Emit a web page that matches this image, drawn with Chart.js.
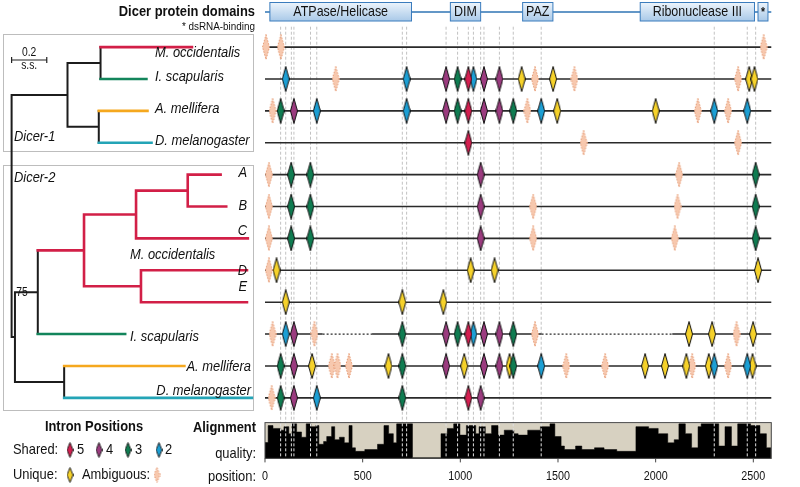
<!DOCTYPE html>
<html lang="en">
<head>
<meta charset="UTF-8" />
<script src="https://cdn.jsdelivr.net/npm/chart.js@4.4.1/dist/chart.umd.min.js"></script>
<style>
  body { margin: 0; background: #fff; }
  #wrap { width: 800px; height: 487px; }
</style>
</head>
<body>
<div id="wrap"><canvas id="myChart" width="800" height="487"></canvas></div>
<script>
// rows of the intron map, top to bottom (same order as the tree tips)
const rowNames = ["M. occidentalis", "I. scapularis", "A. mellifera", "D. melanogaster",
  "A", "B", "C", "D", "E", "I. scapularis", "A. mellifera", "D. melanogaster"];

// intron positions per row: [alignment position, class]
// class: "5","4","3","2" = shared by n genes, "u" = unique, "a" = ambiguous
const d1Mocc = [[5, "a"], [81, "a"], [2553, "a"]];
const d1Isca = [[106, "2"], [362, "a"], [725, "2"], [927, "4"], [986, "3"], [1041, "5"], [1067, "2"],
  [1121, "4"], [1200, "4"], [1314, "u"], [1382, "a"], [1475, "u"], [1584, "a"], [2422, "a"], [2479, "u"], [2506, "u"]];
const d1Amel = [[39, "a"], [80, "3"], [148, "4"], [265, "2"], [725, "2"], [927, "4"], [986, "3"], [1041, "5"],
  [1121, "4"], [1200, "4"], [1271, "3"], [1343, "a"], [1414, "2"], [1496, "u"], [2000, "u"], [2216, "a"],
  [2300, "2"], [2371, "a"], [2469, "2"]];
const d1Dmel = [[1041, "5"], [1631, "a"], [2422, "a"]];
const d2A = [[20, "a"], [134, "3"], [232, "3"], [1104, "4"], [2120, "a"], [2512, "3"]];
const d2B = [[20, "a"], [134, "3"], [232, "3"], [1104, "4"], [1373, "a"], [2112, "a"], [2512, "3"]];
const d2C = [[20, "a"], [134, "3"], [232, "3"], [1104, "4"], [1373, "a"], [2098, "a"], [2512, "3"]];
const d2D = [[20, "a"], [59, "u"], [1053, "u"], [1175, "u"], [2524, "u"]];
const d2E = [[106, "u"], [703, "u"], [913, "u"]];
const d2Isca = [[39, "a"], [106, "2"], [148, "4"], [253, "a"], [703, "3"], [927, "4"], [986, "3"], [1041, "5"],
  [1067, "2"], [1121, "4"], [1200, "4"], [1271, "3"], [1382, "a"], [2171, "u"], [2289, "u"], [2414, "a"], [2499, "u"]];
const d2Amel = [[80, "3"], [148, "4"], [241, "u"], [342, "a"], [371, "a"], [430, "a"], [632, "u"], [703, "3"],
  [927, "4"], [1020, "u"], [1121, "4"], [1200, "4"], [1252, "u"], [1271, "3"], [1414, "2"], [1542, "a"],
  [1741, "a"], [1946, "u"], [2048, "u"], [2157, "u"], [2187, "a"], [2272, "u"], [2300, "2"], [2371, "a"],
  [2469, "2"], [2496, "u"]];
const d2Dmel = [[34, "a"], [80, "3"], [148, "4"], [265, "2"], [703, "3"], [1041, "5"], [1104, "4"]];
const intronRows = [d1Mocc, d1Isca, d1Amel, d1Dmel, d2A, d2B, d2C, d2D, d2E, d2Isca, d2Amel, d2Dmel];

// dashed guides through the shared intron positions
const guidePos = [80, 106, 135, 148, 233, 265, 703, 725, 927, 986, 1041, 1067, 1104, 1121, 1200, 1271,
  1414, 2300, 2469, 2512];
// gaps in the I. scapularis Dicer-2 model: [row, from, to]
const gapSpans = [[9, 295, 548], [9, 1416, 2085]];
const seqLength = 2592;

// protein domains along the alignment
const domainNames = ["ATPase/Helicase", "DIM", "PAZ", "Ribonuclease III", "*"];
const domainStart = [25, 949, 1319, 1921, 2524];
const domainEnd = [750, 1104, 1474, 2506, 2575];

// alignment quality (step start, value 0-1)
const qualPos = [0, 16, 41, 81, 97, 122, 138, 162, 187, 211, 235, 260, 276, 300, 316, 341, 357, 381, 406, 430,
  446, 463, 511, 576, 609, 633, 657, 674, 755, 901, 933, 966, 998, 1031, 1079, 1096, 1128, 1160, 1193, 1225,
  1274, 1296, 1345, 1410, 1459, 1484, 1516, 1533, 1590, 1622, 1687, 1736, 1801, 1899, 1964, 2013, 2062, 2095,
  2119, 2152, 2184, 2217, 2233, 2323, 2355, 2388, 2420, 2486, 2534, 2567, 2590];
const qualVal = [0.45, 0.93, 0.85, 0.8, 0.9, 0.7, 0.98, 0.75, 0.6, 0.98, 0.9, 0.93, 0.4, 0.48, 0.62, 0.9, 0.53,
  0.6, 0.44, 0.93, 0.3, 0.2, 0.25, 0.4, 0.93, 0.7, 0.44, 0.98, 0.02, 0.7, 0.85, 0.98, 0.66, 0.93, 0.7, 0.9, 0.7,
  0.93, 0.66, 0.8, 0.7, 0.66, 0.8, 0.9, 0.98, 0.62, 0.35, 0.25, 0.35, 0.25, 0.3, 0.25, 0.2, 0.9, 0.85, 0.7, 0.44,
  0.53, 0.98, 0.7, 0.3, 0.9, 0.98, 0.35, 0.9, 0.35, 0.98, 0.93, 0.7, 0.3, 0.3];
const tickLabels = [0, 500, 1000, 1500, 2000, 2500];

// tree: parent node, branch length (s.s.), tip row, clade colour key
const treeParent = [-1, 0, 1, 2, 2, 1, 5, 5, 0, 8, 9, 10, 11, 12, 12, 11, 10, 16, 16, 9, 8, 20, 20];
const treeLength = [0, 0.318, 0.188, 0.520, 0.261, 0.178, 0.277, 0.300, 0.019, 0.130, 0.263, 0.296, 0.294,
  0.187, 0.219, 0.636, 0.324, 0.603, 0.603, 0.497, 0.280, 0.684, 1.068];
const treeTip = [null, null, null, 0, 1, null, 2, 3, null, null, null, null, null, 4, 5, 6, null, 7, 8, 9, null, 10, 11];
const treeClade = ["k", "k", "k", "mo", "is", "k", "am", "dm", "k", "k", "mo", "mo", "mo", "mo", "mo", "mo",
  "mo", "mo", "mo", "is", "k", "am", "dm"];

const cladeColor = { k: "#1c1c1c", mo: "#d21f47", is: "#13855b", am: "#f5a81e", dm: "#23a4b6" };
const classColor = { "5": "#d41f50", "4": "#9b3b7f", "3": "#0f7c51", "2": "#1c9fd4", u: "#f6d22a" };
const ambFill = "#f7c8ae", ambLine = "#e59a74";

// diamond marker images
function diamond(w, h, fill, stroke, dash) {
  const c = document.createElement("canvas");
  c.width = w; c.height = h;
  const g = c.getContext("2d");
  g.beginPath();
  g.moveTo(w / 2, 0.5); g.lineTo(w - 0.5, h / 2); g.lineTo(w / 2, h - 0.5); g.lineTo(0.5, h / 2);
  g.closePath();
  g.fillStyle = fill; g.fill();
  if (dash) g.setLineDash(dash);
  g.strokeStyle = stroke; g.lineWidth = 1; g.stroke();
  return c;
}
const bigMark = {}, smallMark = {};
Object.keys(classColor).forEach((k) => {
  bigMark[k] = diamond(8, 26, classColor[k], "#111");
  smallMark[k] = diamond(7, 16, classColor[k], "#222");
});
bigMark.a = diamond(8, 26, ambFill, ambLine, [1.5, 1.5]);
smallMark.a = diamond(7, 16, ambFill, ambLine, [1.5, 1.5]);

// tree layout
const n = treeParent.length;
const nodeX = new Array(n).fill(0);
for (let i = 1; i < n; i++) nodeX[i] = nodeX[treeParent[i]] + treeLength[i];
const kids = treeParent.map(() => []);
treeParent.forEach((p, i) => { if (p >= 0) kids[p].push(i); });
const nodeY = treeTip.slice();
for (let i = n - 1; i >= 0; i--) {
  if (nodeY[i] === null) {
    const ys = kids[i].map((k) => nodeY[k]);
    nodeY[i] = (Math.min(...ys) + Math.max(...ys)) / 2;
  }
}
const treeSegs = {};
Object.keys(cladeColor).forEach((k) => (treeSegs[k] = []));
function seg(c, x1, y1, x2, y2) {
  treeSegs[c].push({ x: x1, y: y1 }, { x: x2, y: y2 }, { x: x2, y: null });
}
for (let i = 0; i < n; i++) {
  if (i > 0) seg(treeClade[i], nodeX[treeParent[i]], nodeY[i], nodeX[i], nodeY[i]);
  if (kids[i].length) {
    const ys = kids[i].map((k) => nodeY[k]);
    seg(treeClade[i], nodeX[i], Math.min(...ys), nodeX[i], Math.max(...ys));
  }
}

const datasets = [];
// intron diamonds
["5", "4", "3", "2", "u", "a"].forEach((k, j) => {
  const pts = [];
  intronRows.forEach((row, r) => row.forEach(([p, c]) => { if (c === k) pts.push({ x: p, y: r }); }));
  datasets.push({ data: pts, pointStyle: bigMark[k], pointRadius: 4, showLine: false, order: j < 4 ? 0 : 1,
    xAxisID: "x", yAxisID: "y" });
});
// tree branches
Object.keys(treeSegs).forEach((k) => {
  datasets.push({ data: treeSegs[k], showLine: true, borderColor: cladeColor[k], borderWidth: k === "k" ? 2 : 2.6,
    borderCapStyle: "square", pointRadius: 0, order: k === "k" ? 3 : 2, xAxisID: "tx", yAxisID: "y" });
});
// gene model lines
const solid = [], dots = [];
rowNames.forEach((name, r) => {
  const gaps = gapSpans.filter((g) => g[0] === r);
  let start = 0;
  gaps.forEach(([, a, b]) => {
    solid.push({ x: start, y: r }, { x: a, y: r }, { x: a, y: null });
    dots.push({ x: a, y: r }, { x: b, y: r }, { x: b, y: null });
    start = b;
  });
  solid.push({ x: start, y: r }, { x: seqLength, y: r }, { x: seqLength, y: null });
});
datasets.push({ data: solid, showLine: true, borderColor: "#2a2a2a", borderWidth: 1.6, pointRadius: 0, order: 10,
  xAxisID: "x", yAxisID: "y" });
datasets.push({ data: dots, showLine: true, borderColor: "#2a2a2a", borderWidth: 1.2, borderDash: [2, 2],
  pointRadius: 0, order: 10, xAxisID: "x", yAxisID: "y" });
// guides
const guideTop = [], guideLow = [];
guidePos.forEach((p) => {
  guideTop.push({ x: p, y: -0.64 }, { x: p, y: 11.8 }, { x: p, y: null });
  guideLow.push({ x: p, y: 11.8 }, { x: p, y: 12.9 }, { x: p, y: null });
});
datasets.push({ data: guideTop, showLine: true, borderColor: "#c2c2c2", borderWidth: 1, borderDash: [3, 2],
  pointRadius: 0, order: 25, xAxisID: "x", yAxisID: "y" });
datasets.push({ data: guideLow, showLine: true, borderColor: "#e0e0e0", borderWidth: 1, borderDash: [3, 2],
  pointRadius: 0, order: 15, xAxisID: "x", yAxisID: "y" });
// alignment quality
datasets.push({ data: qualPos.map((p, i) => ({ x: p, y: qualVal[i] })), showLine: true, stepped: true,
  fill: "origin", backgroundColor: "#000", borderColor: "#000", borderWidth: 0.5, pointRadius: 0, order: 20,
  xAxisID: "x", yAxisID: "q" });

const SX = 0.86; // horizontal squeeze for the condensed figure font
function txt(ctx, s, x, y, font, align, color) {
  ctx.save();
  ctx.font = font;
  ctx.fillStyle = color || "#111";
  ctx.textBaseline = "middle";
  ctx.textAlign = align || "left";
  ctx.translate(x, y);
  ctx.scale(SX, 1);
  ctx.fillText(s, 0, 0);
  ctx.restore();
}
const FF = "'Liberation Sans', Arial, sans-serif";

const decorations = {
  id: "decorations",
  beforeDatasetsDraw(chart) {
    const { ctx, scales } = chart;
    const xs = scales.x, q = scales.q;
    ctx.save();
    ctx.strokeStyle = "#bdbdbd";
    ctx.lineWidth = 1;
    ctx.strokeRect(3.5, 34.5, 250, 117);
    ctx.strokeRect(3.5, 165.5, 250, 245);
    const l = xs.getPixelForValue(0), r = xs.getPixelForValue(seqLength);
    const t = q.getPixelForValue(1), b = q.getPixelForValue(0);
    ctx.fillStyle = "#d7d1c1";
    ctx.fillRect(l, t, r - l, b - t);
    ctx.restore();
  },
  afterDatasetsDraw(chart) {
    const { ctx, scales } = chart;
    const xs = scales.x, q = scales.q, tx = scales.tx;
    ctx.save();
    // quality panel frame + position ticks
    const l = xs.getPixelForValue(0), r = xs.getPixelForValue(seqLength);
    const t = q.getPixelForValue(1), b = q.getPixelForValue(0);
    ctx.strokeStyle = "#444";
    ctx.lineWidth = 1;
    ctx.strokeRect(l, t - 0.5, r - l, b - t + 0.5);
    tickLabels.forEach((v) => {
      const px = xs.getPixelForValue(v);
      ctx.beginPath(); ctx.moveTo(px, b); ctx.lineTo(px, b + 4); ctx.stroke();
      txt(ctx, String(v), px, 477, "12.5px " + FF, "center");
    });
    // domain bar
    ctx.strokeStyle = "#2f74b5";
    ctx.lineWidth = 1.5;
    ctx.beginPath(); ctx.moveTo(l, 12); ctx.lineTo(r, 12); ctx.stroke();
    domainNames.forEach((name, i) => {
      const x1 = xs.getPixelForValue(domainStart[i]), x2 = xs.getPixelForValue(domainEnd[i]);
      const g = ctx.createLinearGradient(0, 2, 0, 21);
      g.addColorStop(0, "#eef5fc"); g.addColorStop(1, "#a9c9e8");
      ctx.fillStyle = g;
      ctx.fillRect(x1, 2.5, x2 - x1, 18.5);
      ctx.strokeStyle = "#3b7cbd"; ctx.lineWidth = 1;
      ctx.strokeRect(x1, 2.5, x2 - x1, 18.5);
      txt(ctx, name, (x1 + x2) / 2, name === "*" ? 13 : 12, (name === "*" ? "bold 12px " : "14.5px ") + FF, "center");
    });
    txt(ctx, "Dicer protein domains", 255, 12, "bold 15px " + FF, "right");
    txt(ctx, "* dsRNA-binding", 255, 27, "11.5px " + FF, "right");
    // tree labels
    const it = "italic 15px " + FF;
    const tipLab = [[155, 53, "left"], [155, 77, "left"], [155, 109, "left"], [155, 141, "left"],
      [247, 173, "right"], [247, 206, "right"], [247, 231, "right"], [247, 271, "right"], [247, 287, "right"],
      [130, 337, "left"], [251, 367, "right"], [251, 391, "right"]];
    rowNames.forEach((s, i) => txt(ctx, s, tipLab[i][0], tipLab[i][1], it, tipLab[i][2]));
    txt(ctx, "M. occidentalis", 130, 255, it, "left");
    txt(ctx, "Dicer-1", 14, 137, it);
    txt(ctx, "Dicer-2", 14, 178, it);
    txt(ctx, "75", 22, 293, "12px " + FF, "center");
    // scale bar
    const s0 = tx.getPixelForValue(0), s1 = tx.getPixelForValue(0.2);
    ctx.strokeStyle = "#222"; ctx.lineWidth = 1.2;
    ctx.beginPath();
    ctx.moveTo(s0, 60); ctx.lineTo(s1, 60);
    ctx.moveTo(s0, 57); ctx.lineTo(s0, 63);
    ctx.moveTo(s1, 57); ctx.lineTo(s1, 63);
    ctx.stroke();
    txt(ctx, "0.2", (s0 + s1) / 2, 53, "12px " + FF, "center");
    txt(ctx, "s.s.", (s0 + s1) / 2, 66, "12px " + FF, "center");
    // legend
    txt(ctx, "Intron Positions", 94, 427, "bold 15px " + FF, "center");
    txt(ctx, "Shared:", 13, 450, "15px " + FF);
    [["5", 70, 77], ["4", 99, 106], ["3", 128, 135], ["2", 159, 165]].forEach(([k, dx, lx]) => {
      ctx.drawImage(smallMark[k], dx - 3.5, 442);
      txt(ctx, k, lx, 450, "15px " + FF);
    });
    txt(ctx, "Unique:", 13, 475, "15px " + FF);
    ctx.drawImage(smallMark.u, 66.5, 467);
    txt(ctx, "Ambiguous:", 82, 475, "15px " + FF);
    ctx.drawImage(smallMark.a, 153.5, 467);
    txt(ctx, "Alignment", 256, 428, "bold 15px " + FF, "right");
    txt(ctx, "quality:", 256, 454, "15px " + FF, "right");
    txt(ctx, "position:", 256, 477, "15px " + FF, "right");
    ctx.restore();
  },
};

// pixel layout: alignment position 0 at x=263.3, 0.1978 px per residue;
// tree root at x=6.7, 178 px per s.s.; rows 32.55 px apart starting at y=43
const ctx = document.getElementById("myChart").getContext("2d");
const myChart = new Chart(ctx, {
  type: "scatter",
  data: { datasets },
  options: {
    responsive: false,
    animation: false,
    devicePixelRatio: 1,
    events: [],
    layout: { padding: 0 },
    plugins: { legend: { display: false }, tooltip: { enabled: false }, title: { display: false } },
    scales: {
      x: { type: "linear", display: false, min: -1331.1, max: 2713.4 },
      tx: { type: "linear", axis: "x", display: false, min: -0.0376, max: 4.457 },
      y: { type: "linear", display: false, reverse: true, min: -1.321, max: 13.64 },
      q: { type: "linear", axis: "y", display: false, min: -0.67, max: 12.86 },
    },
  },
  plugins: [decorations],
});
</script>
</body>
</html>
